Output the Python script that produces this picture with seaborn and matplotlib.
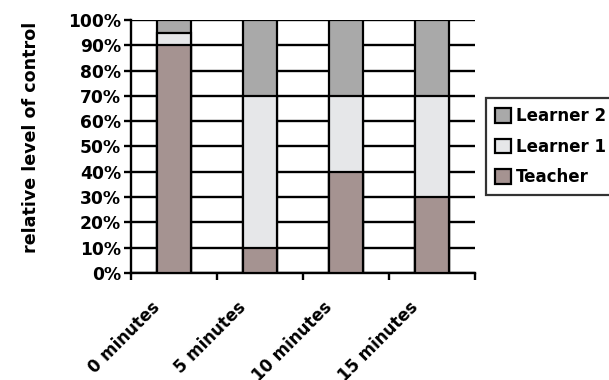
import pandas as pd
import numpy as np
import seaborn as sns
import matplotlib.pyplot as plt
from matplotlib.patches import Patch
from matplotlib.ticker import FixedLocator, PercentFormatter

# --- data ---
categories = ['0 minutes', '5 minutes', '10 minutes', '15 minutes']
teacher = [90, 10, 40, 30]
learner1 = [5, 60, 30, 40]
learner2 = [5, 30, 30, 30]

colors = {'Teacher': '#a59391', 'Learner 1': '#e6e7e9', 'Learner 2': '#a9a9a9'}

sns.set_style('white')
plt.rcParams['font.family'] = ['DejaVu Sans']
plt.rcParams['font.weight'] = 'bold'
for k in ['text.color', 'axes.labelcolor', 'xtick.color', 'ytick.color']:
    plt.rcParams[k] = 'black'

df = pd.DataFrame({'cat': categories, 'Teacher': teacher,
                   'Learner 1': learner1, 'Learner 2': learner2})
df['top_t'] = df['Teacher']
df['top_l1'] = df['Teacher'] + df['Learner 1']
df['top_l2'] = df['top_l1'] + df['Learner 2']

fig = plt.figure(figsize=(6.09, 3.8), dpi=100)
ax = fig.add_axes([0.215, 0.282, 0.565, 0.665])

# stacked bars: draw the tallest first
for col, name in [('top_l2', 'Learner 2'), ('top_l1', 'Learner 1'), ('top_t', 'Teacher')]:
    sns.barplot(data=df, x='cat', y=col, order=categories, color=colors[name],
                saturation=1, width=0.4, edgecolor='black', linewidth=1.6, ax=ax, zorder=3)

ax.set_ylim(0, 100)
ax.set_xlim(-0.5, 3.5)
ax.yaxis.set_major_locator(FixedLocator(np.arange(0, 101, 10)))
ax.yaxis.set_major_formatter(PercentFormatter(decimals=0))
ax.grid(axis='y', color='black', linewidth=1.7, zorder=0)
ax.set_axisbelow(True)

for s in ['top', 'right']:
    ax.spines[s].set_visible(False)
for s in ['left', 'bottom']:
    ax.spines[s].set_color('black')
    ax.spines[s].set_linewidth(1.7)

ax.tick_params(axis='y', which='major', left=True, length=5, width=1.7, color='black',
               labelsize=12.3, pad=2)
# labels end a little left of the category centre, like the original
ax.set_xticks(np.arange(len(categories)) - 0.27)
ax.set_xticklabels(categories, rotation=45, ha='right', rotation_mode='anchor',
                   fontsize=12, fontweight='bold')
ax.tick_params(axis='x', which='major', length=0, pad=18)
ax.set_xticks(np.arange(-0.5, 3.6, 1), minor=True)
ax.tick_params(axis='x', which='minor', bottom=True, length=5, width=1.7, color='black')
for lbl in ax.get_yticklabels():
    lbl.set_fontweight('bold')

ax.set_xlabel('')
ax.set_ylabel('relative level of control', fontsize=12.6, fontweight='bold')
ax.yaxis.set_label_coords(-0.265, 0.535)

handles = [Patch(facecolor=colors[n], edgecolor='black', linewidth=1.6, label=n)
           for n in ['Learner 2', 'Learner 1', 'Teacher']]
leg = fig.legend(handles=handles, loc='upper left', bbox_to_anchor=(0.798, 0.742),
                 borderaxespad=0, frameon=True, fancybox=False, handlelength=0.95,
                 handleheight=0.95, handletextpad=0.3, borderpad=0.55, labelspacing=0.75,
                 prop={'weight': 'bold', 'size': 12})
leg.get_frame().set_edgecolor('black')
leg.get_frame().set_linewidth(1.6)

fig.savefig('out.png', dpi=100)
